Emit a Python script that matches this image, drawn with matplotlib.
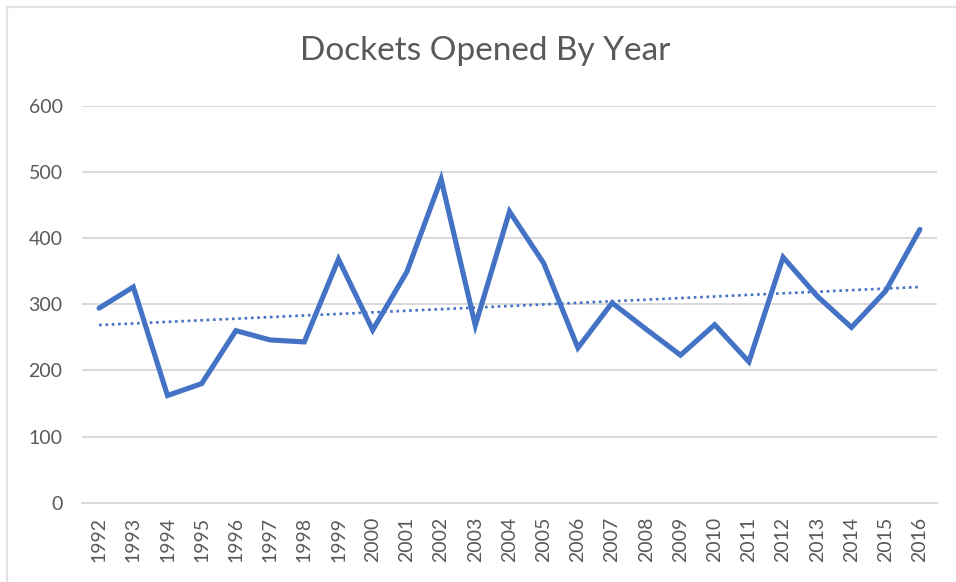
import numpy as np
import matplotlib
matplotlib.use("Agg")
import matplotlib.pyplot as plt
from matplotlib.lines import Line2D

years = [str(y) for y in range(1992, 2017)]
dockets = [294, 326, 162, 180, 260, 246, 243, 368, 261, 349, 489, 268, 440,
           362, 234, 302, 262, 223, 269, 213, 371, 312, 265, 320, 413]
y_ticks = [0, 100, 200, 300, 400, 500, 600]
title = "Dockets Opened By Year"

plt.rcParams['font.family'] = ['Lato', 'DejaVu Sans']
text_color = '#595959'
line_color = '#4472C4'
grid_color = '#D9D9D9'

W, H = 956, 582
fig = plt.figure(figsize=(W / 100, H / 100), dpi=100)
fig.patch.set_facecolor('white')

ax = fig.add_axes([82 / W, 1 - 502.7 / H, (937 - 82) / W, (502.7 - 105.7) / H])
x = np.arange(len(years))
ax.plot(x, dockets, color=line_color, lw=3.7, solid_joinstyle='miter',
        solid_capstyle='round', zorder=3)

coef = np.polyfit(x, dockets, 1)
trend = np.polyval(coef, x)
ax.plot(x, trend, color=line_color, lw=1.9, linestyle=(0, (1, 1.4)),
        dash_capstyle='butt', zorder=2)

ax.set_xlim(-0.5, len(years) - 0.5)
ax.set_ylim(0, 600)
ax.set_yticks(y_ticks)
ax.set_yticklabels([str(v) for v in y_ticks])
ax.set_xticks(x)
ax.set_xticklabels(years, rotation=90)
ax.tick_params(axis='y', length=0, pad=14, labelsize=14, labelcolor=text_color)
ax.tick_params(axis='x', length=0, pad=10, labelsize=14, labelcolor=text_color)
ax.yaxis.grid(True, color=grid_color, lw=1.4)
ax.set_axisbelow(True)
for s in ['top', 'right', 'left']:
    ax.spines[s].set_visible(False)
ax.spines['bottom'].set_color(grid_color)
ax.spines['bottom'].set_linewidth(1.4)

fig.text(485.5 / W, 1 - 51 / H, title, ha='center', va='center',
         fontsize=24, color=text_color)

# chart area border (top and left visible)
fig.add_artist(Line2D([7 / W, 1], [1 - 7 / H, 1 - 7 / H], color='#E3E3E3', lw=1.6,
                      transform=fig.transFigure))
fig.add_artist(Line2D([7 / W, 7 / W], [0, 1 - 7 / H], color='#E3E3E3', lw=1.6,
                      transform=fig.transFigure))

fig.savefig('out.png', dpi=100, facecolor='white')
